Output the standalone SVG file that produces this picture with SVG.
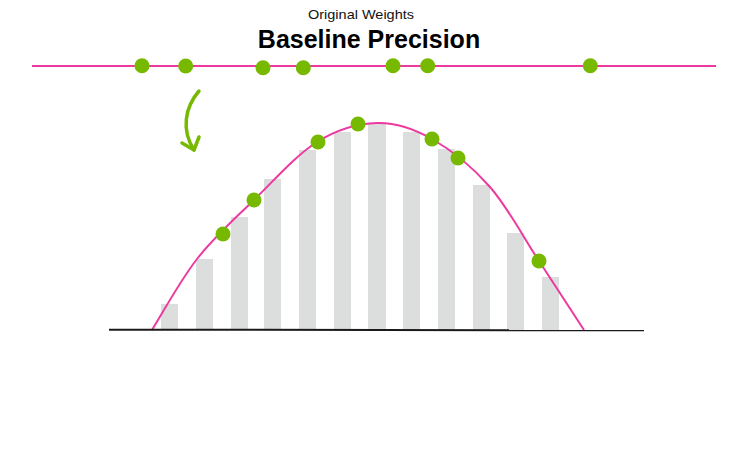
<svg xmlns="http://www.w3.org/2000/svg" width="753" height="460" viewBox="0 0 753 460">
<style>
.bar{fill:#dcdddd}
.dot{fill:#76b900}
.pink{fill:none;stroke:#ec3aa0;stroke-width:2}
.axis{stroke:#1a1a1a;stroke-width:2}
.arrow{fill:none;stroke:#76b900;stroke-width:3.5;stroke-linecap:round;stroke-linejoin:round}
.t1{font-family:"Liberation Sans",Arial,sans-serif;font-size:13px;fill:#111}
.t2{font-family:"Liberation Sans",Arial,sans-serif;font-size:25px;font-weight:bold;fill:#000}
</style>
<rect width="753" height="460" fill="#fff"/>
<g id="title">
<text class="t1" x="361" y="19" text-anchor="middle" textLength="106" lengthAdjust="spacingAndGlyphs">Original Weights</text>
<text class="t2" x="369" y="48" text-anchor="middle">Baseline Precision</text>
</g>
<g id="bars">
<rect class="bar" x="161" y="304" width="17" height="26"/>
<rect class="bar" x="196" y="259" width="17" height="71"/>
<rect class="bar" x="231" y="217" width="17" height="113"/>
<rect class="bar" x="264" y="179" width="17" height="151"/>
<rect class="bar" x="299" y="150" width="17" height="180"/>
<rect class="bar" x="334" y="132" width="17" height="198"/>
<rect class="bar" x="368" y="124" width="18" height="206"/>
<rect class="bar" x="403" y="132" width="17" height="198"/>
<rect class="bar" x="438" y="149" width="17" height="181"/>
<rect class="bar" x="473" y="185" width="17" height="145"/>
<rect class="bar" x="507" y="233" width="17" height="97"/>
<rect class="bar" x="542" y="277" width="17" height="53"/>
</g>
<g id="connectors">
<line id="top-line" class="pink" x1="32" y1="66" x2="716" y2="66"/>
<path id="curve" class="pink" d="M152,330 C159.5,318.2 180,280.7 197,259 C214,237.3 234,219.5 254,200 C274,180.5 296.5,154.8 317,142 C337.5,129.2 357.8,123.5 377,123 C396.2,122.5 413.2,128.3 432,139 C450.8,149.7 472.2,166.7 490,187 C507.8,207.3 523.3,237.2 539,261 C554.7,284.8 576.5,318.5 584,330"/>
<line id="axis" class="axis" x1="109" y1="329.7" x2="644" y2="330.3"/>
<g id="arrow">
<path class="arrow" d="M199,91 C185,107 181,130 194,150"/>
<path class="arrow" d="M182,143 L194,150 L199,137"/>
</g>
</g>
<g id="top-dots">
<circle class="dot" cx="142" cy="65.7" r="7.5"/>
<circle class="dot" cx="185.7" cy="66" r="7.5"/>
<circle class="dot" cx="263" cy="67.7" r="7.5"/>
<circle class="dot" cx="303.3" cy="67.7" r="7.5"/>
<circle class="dot" cx="393" cy="65.7" r="7.5"/>
<circle class="dot" cx="427.7" cy="65.7" r="7.5"/>
<circle class="dot" cx="590.3" cy="65.7" r="7.5"/>
</g>
<g id="curve-dots">
<circle class="dot" cx="223" cy="234" r="7.5"/>
<circle class="dot" cx="254" cy="200" r="7.5"/>
<circle class="dot" cx="318" cy="142" r="7.5"/>
<circle class="dot" cx="358" cy="124" r="7.5"/>
<circle class="dot" cx="432" cy="139" r="7.5"/>
<circle class="dot" cx="458" cy="158" r="7.5"/>
<circle class="dot" cx="539" cy="261" r="7.5"/>
</g>
</svg>
